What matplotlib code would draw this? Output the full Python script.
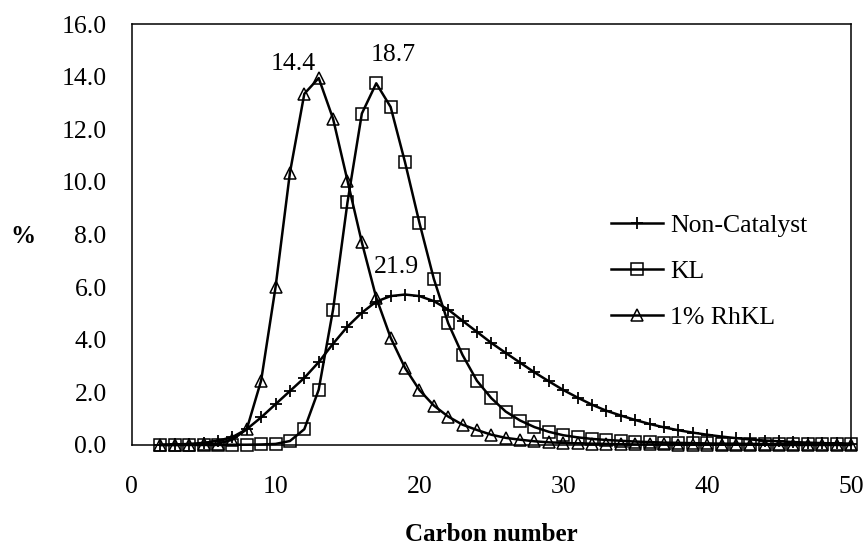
import matplotlib.pyplot as plt
import numpy as np

plt.rcParams['font.family'] = ['Liberation Serif', 'DejaVu Serif']

carbon = np.arange(2, 51)

non_catalyst = [0.01, 0.02, 0.04, 0.08, 0.16, 0.3, 0.6, 1.05, 1.55, 2.05,
                2.55, 3.15, 3.85, 4.5, 5.03, 5.45, 5.66, 5.72, 5.66, 5.47,
                5.15, 4.72, 4.3, 3.88, 3.5, 3.13, 2.76, 2.42, 2.09, 1.8,
                1.53, 1.3, 1.12, 0.95, 0.8, 0.67, 0.56, 0.47, 0.39, 0.32,
                0.26, 0.21, 0.17, 0.14, 0.11, 0.09, 0.07, 0.06, 0.05]

kl = [0.0, 0.0, 0.0, 0.0, 0.0, 0.01, 0.01, 0.02, 0.04, 0.15,
      0.6, 2.1, 5.15, 9.22, 12.6, 13.75, 12.85, 10.75, 8.45, 6.32,
      4.63, 3.42, 2.44, 1.78, 1.27, 0.93, 0.68, 0.5, 0.37, 0.29,
      0.23, 0.19, 0.16, 0.13, 0.11, 0.09, 0.08, 0.07, 0.06, 0.05,
      0.05, 0.04, 0.04, 0.03, 0.03, 0.03, 0.02, 0.02, 0.02]

rhkl = [0.0, 0.0, 0.01, 0.02, 0.05, 0.2, 0.6, 2.45, 6.0, 10.35,
        13.35, 13.95, 12.4, 10.05, 7.7, 5.6, 4.08, 2.93, 2.09, 1.5,
        1.08, 0.77, 0.57, 0.39, 0.27, 0.2, 0.14, 0.1, 0.08, 0.06,
        0.05, 0.04, 0.03, 0.02, 0.02, 0.02, 0.01, 0.01, 0.01, 0.01,
        0.01, 0.01, 0.01, 0.0, 0.0, 0.0, 0.0, 0.0, 0.0]

# average carbon numbers written next to the peaks
avg_labels = ['14.4', '18.7', '21.9']
avg_pos = [(11.2, 14.5), (18.15, 14.83), (18.4, 6.77)]

fig = plt.figure(figsize=(8.68, 5.48), dpi=100)
ax = fig.add_axes([0.1517, 0.188, 0.8287, 0.768])

ax.plot(carbon, non_catalyst, color='black', lw=1.8, marker='+', ms=9,
        mew=1.3, label='Non-Catalyst', clip_on=False)
ax.plot(carbon, kl, color='black', lw=1.8, marker='s', ms=8.5, mew=1.1,
        mfc='none', label='KL', clip_on=False)
ax.plot(carbon, rhkl, color='black', lw=1.8, marker='^', ms=9, mew=1.1,
        mfc='none', label='1% RhKL', clip_on=False)

for txt, (x, y) in zip(avg_labels, avg_pos):
    ax.text(x, y, txt, fontsize=18.5, ha='center', va='center')

ax.set_xlim(0, 50)
ax.set_ylim(0, 16)
ax.set_xticks(np.arange(0, 51, 10))
ax.set_yticks(np.arange(0, 16.1, 2))
ax.set_yticklabels(['%.1f' % v for v in np.arange(0, 16.1, 2)])
ax.tick_params(length=0, labelsize=18.5)
ax.tick_params(axis='y', pad=18)
ax.tick_params(axis='x', pad=22)
for s in ax.spines.values():
    s.set_linewidth(1.1)

ax.set_xlabel('Carbon number', fontsize=18, fontweight='bold', labelpad=18)
fig.text(0.027, 0.568, '%', fontsize=18, fontweight='bold',
         ha='center', va='center')

ax.legend(loc='upper left', bbox_to_anchor=(0.649, 0.58), frameon=False,
          fontsize=18.5, handlelength=2.0, handletextpad=0.3,
          labelspacing=0.9, borderpad=0)

fig.savefig('out.png', dpi=100)
